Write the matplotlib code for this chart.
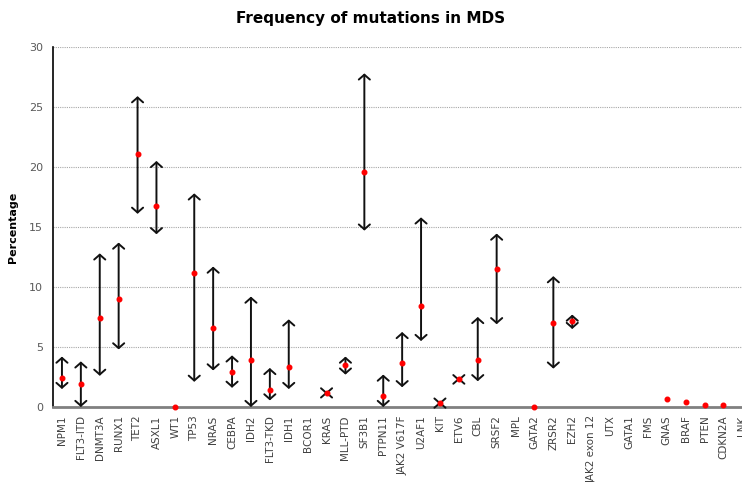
import numpy as np
import matplotlib
matplotlib.use("Agg")
import matplotlib.pyplot as plt

nan = np.nan

genes = ["NPM1", "FLT3-ITD", "DNMT3A", "RUNX1", "TET2", "ASXL1", "WT1", "TP53",
         "NRAS", "CEBPA", "IDH2", "FLT3-TKD", "IDH1", "BCOR1", "KRAS", "MLL-PTD",
         "SF3B1", "PTPN11", "JAK2 V617F", "U2AF1", "KIT", "ETV6", "CBL", "SRSF2",
         "MPL", "GATA2", "ZRSR2", "EZH2", "JAK2 exon 12", "UTX", "GATA1", "FMS",
         "GNAS", "BRAF", "PTEN", "CDKN2A", "LNK"]

# mean frequency (red dot)
freq = [2.4, 1.9, 7.4, 9.0, 21.1, 16.75, 0.0, 11.2,
        6.55, 2.9, 3.9, 1.4, 3.3, nan, 1.17, 3.5,
        19.6, 0.9, 3.7, 8.4, 0.3, 2.3, 3.95, 11.5,
        nan, 0.0, 7.0, 7.2, nan, nan, nan, nan,
        0.64, 0.42, 0.17, 0.17, nan]

# reported range (arrows)
low = [1.5, 0.0, 2.6, 4.8, 16.1, 14.4, nan, 2.1,
       3.05, 1.6, 0.0, 0.55, 1.5, nan, 1.05, 2.7,
       14.7, 0.0, 1.65, 5.5, 0.2, 2.15, 2.15, 6.9,
       nan, nan, 3.2, 6.5, nan, nan, nan, nan,
       nan, nan, nan, nan, nan]
high = [4.2, 3.8, 12.8, 13.7, 25.9, 20.5, nan, 17.8,
        11.7, 4.3, 9.2, 3.25, 7.3, nan, 1.3, 4.2,
        27.8, 2.7, 6.25, 15.8, 0.45, 2.45, 7.5, 14.45,
        nan, nan, 10.9, 7.7, nan, nan, nan, nan,
        nan, nan, nan, nan, nan]

fig = plt.figure(figsize=(7.42, 4.82), dpi=100)
n = len(genes)
ax = fig.add_axes([52.5 / 742, 75 / 482, 18.9 * n / 742, 360 / 482])

x = np.arange(n)
for xi, lo, hi in zip(x, low, high):
    if np.isnan(lo) or np.isnan(hi):
        continue
    ax.annotate("", xy=(xi, hi), xytext=(xi, lo),
                arrowprops=dict(arrowstyle="<->,head_length=0.35,head_width=0.4",
                                color="#111111", lw=1.4,
                                shrinkA=0, shrinkB=0, mutation_scale=10))
ax.plot(x, freq, "o", color="red", ms=3.3, zorder=4, clip_on=False)

ax.set_xlim(-0.5, n - 0.5)
ax.set_ylim(0, 30)
ax.set_yticks(range(0, 31, 5))
ax.set_xticks(x)
ax.set_xticklabels(genes, rotation=90, fontsize=7.5, color="#404040")
ax.tick_params(axis="y", labelsize=8, colors="#595959", length=0, pad=7)
ax.tick_params(axis="x", length=0, pad=6)
ax.yaxis.grid(True, linestyle=(0, (1, 1)), color="#a8a8a8", lw=0.8)
ax.set_axisbelow(True)
for s in ["top", "right"]:
    ax.spines[s].set_visible(False)
ax.spines["left"].set_color("black")
ax.spines["left"].set_linewidth(1.2)
ax.spines["bottom"].set_color("#808080")
ax.spines["bottom"].set_linewidth(2)

ax.set_ylabel("Percentage", fontsize=8, fontweight="bold")
ax.yaxis.set_label_coords((18 - 52.5) / (18.9 * n), 0.5)
fig.text(371 / 742, 1 - 18 / 482, "Frequency of mutations in MDS",
         ha="center", va="center", fontsize=11, fontweight="bold")

fig.savefig("out.png", dpi=100)
